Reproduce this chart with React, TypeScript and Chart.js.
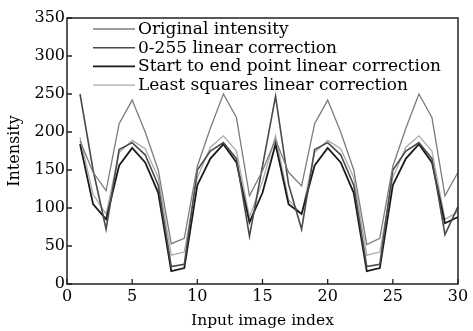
import React, { useEffect, useRef } from "react";
import { Chart, registerables } from "chart.js";

Chart.register(...registerables);

const indices = [1,2,3,4,5,6,7,8,9,10,11,12,13,14,15,16,17,18,19,20,21,22,23,24,25,26,27,28,29,30];
const originalIntensity = [188,147,123,211,242,200,150,53,60,155,205,250,219,116,149,190,147,129,211,242,200,150,52,60,155,205,250,219,116,147];
const linear0255 = [250,150,72,177,186,170,130,23,26,150,175,186,165,63,155,247,131,72,177,186,170,130,23,26,150,175,186,165,65,102];
const startEndLinear = [184,105,85,156,179,160,120,17,21,130,165,184,160,81,120,184,105,92,156,179,160,120,17,21,130,165,184,160,80,88];
const leastSquares = [193,118,92,173,189,178,140,38,42,140,180,195,175,88,135,195,111,92,173,189,178,140,38,42,140,180,195,175,85,95];
const seriesLabels = [
  "Original intensity",
  "0-255 linear correction",
  "Start to end point linear correction",
  "Least squares linear correction",
];
const xTicks = [0,5,10,15,20,25,30];
const yTicks = [0,50,100,150,200,250,300,350];

const FONT = "'DejaVu Serif', serif";

const framePlugin = {
  id: "frameTicks",
  afterDraw(chart: any) {
    const { ctx, chartArea, scales } = chart;
    const { left, right, top, bottom } = chartArea;
    ctx.save();
    ctx.strokeStyle = "#222";
    ctx.lineWidth = 1.5;
    ctx.strokeRect(left, top, right - left, bottom - top);
    ctx.lineWidth = 1.3;
    ctx.beginPath();
    for (const v of yTicks) {
      const y = scales.y.getPixelForValue(v);
      ctx.moveTo(left, y);
      ctx.lineTo(left + 5, y);
    }
    for (const v of xTicks) {
      const x = scales.x.getPixelForValue(v);
      ctx.moveTo(x, bottom);
      ctx.lineTo(x, bottom - 5);
    }
    ctx.stroke();
    // legend
    const ds = chart.data.datasets;
    ctx.font = `17px ${FONT}`;
    ctx.textBaseline = "middle";
    ctx.fillStyle = "#000";
    for (let i = 0; i < ds.length; i++) {
      const y = top + 11 + i * 18.7;
      ctx.strokeStyle = ds[i].borderColor;
      ctx.lineWidth = ds[i].borderWidth;
      ctx.beginPath();
      ctx.moveTo(left + 26, y);
      ctx.lineTo(left + 68, y);
      ctx.stroke();
      ctx.fillText(ds[i].label, left + 71, y + 0.5);
    }
    ctx.restore();
  },
};

export default function App() {
  const ref = useRef<HTMLCanvasElement>(null);
  useEffect(() => {
    if (!ref.current) return;
    const mk = (arr: number[]) => indices.map((x, i) => ({ x, y: arr[i] }));
    const chart = new Chart(ref.current, {
      type: "line",
      data: {
        datasets: [
          { label: seriesLabels[0], data: mk(originalIntensity), borderColor: "#7c7c7c", borderWidth: 1.3 },
          { label: seriesLabels[1], data: mk(linear0255), borderColor: "#4a4a4a", borderWidth: 1.6 },
          { label: seriesLabels[2], data: mk(startEndLinear), borderColor: "#1a1a1a", borderWidth: 1.8 },
          { label: seriesLabels[3], data: mk(leastSquares), borderColor: "#aaaaaa", borderWidth: 1.3 },
        ].map((d) => ({ ...d, pointRadius: 0, fill: false, tension: 0 })),
      },
      options: {
        animation: false,
        responsive: false,
        layout: { padding: { top: 18, right: 15, left: 0, bottom: 0 } },
        plugins: { legend: { display: false }, tooltip: { enabled: false } },
        scales: {
          x: {
            type: "linear",
            min: 0,
            max: 30,
            afterBuildTicks: (s: any) => { s.ticks = xTicks.map((v) => ({ value: v })); },
            afterFit: (s: any) => { s.height = 47; },
            grid: { display: false, drawTicks: false },
            border: { display: false },
            ticks: { color: "#000", font: { family: FONT, size: 16 }, padding: 3, maxRotation: 0 },
            title: { display: true, text: "Input image index", color: "#000", font: { family: FONT, size: 15.5 }, padding: { top: 0, bottom: 1 } },
          },
          y: {
            type: "linear",
            min: 0,
            max: 350,
            afterBuildTicks: (s: any) => { s.ticks = yTicks.map((v) => ({ value: v })); },
            afterFit: (s: any) => { s.width = 67; },
            grid: { display: false, drawTicks: false },
            border: { display: false },
            ticks: { color: "#000", font: { family: FONT, size: 16 }, padding: 2 },
            title: { display: true, text: "Intensity", color: "#000", font: { family: FONT, size: 16 }, padding: { top: 5, bottom: 0 } },
          },
        },
      },
      plugins: [framePlugin],
    });
    return () => chart.destroy();
  }, []);
  return (
    <div style={{ position: "fixed", left: 0, top: 0, width: 473, height: 331, background: "#fff" }}>
      <canvas ref={ref} width={473} height={331} style={{ width: 473, height: 331 }} />
    </div>
  );
}
